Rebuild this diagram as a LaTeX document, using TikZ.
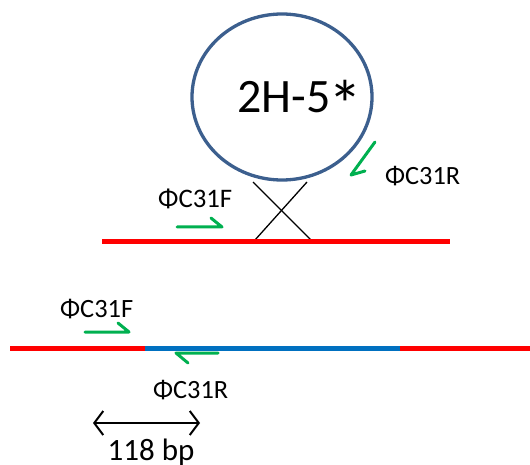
\documentclass[tikz,border=0pt]{standalone}
\usepackage{fontspec}
\setmainfont{Carlito}
\usetikzlibrary{arrows.meta}
\definecolor{dnared}{HTML}{FF0000}
\definecolor{dnablue}{HTML}{0070C0}
\definecolor{primer}{HTML}{00B050}
\definecolor{ringblue}{HTML}{3C5F8E}
\begin{document}
\begin{tikzpicture}[x=1pt,y=-1pt,
  dnaR/.style={draw=dnared,line width=5pt},
  dnaB/.style={draw=dnablue,line width=5pt},
  primerarrow/.style={draw=primer,line width=3pt,line cap=round,line join=round},
  lbl/.style={font=\fontsize{23}{23}\selectfont,anchor=base west,inner sep=0pt},
  cross/.style={draw=black,line width=1.3pt}]
\useasboundingbox (0,0) rectangle (530,465);
% plasmid
\draw[draw=ringblue,line width=3.3pt] (282,97) ellipse [x radius=90, y radius=83];
\node[font=\fontsize{48}{48}\selectfont,anchor=base west,inner sep=0pt] (name) at (237,113) {2H-5\kern-2pt\raisebox{-16pt}{\fontsize{68}{68}\selectfont *}};
% cross
\coordinate (x1) at (253,182); \coordinate (x2) at (311,240);
\coordinate (x3) at (307,182); \coordinate (x4) at (255,240);
\draw[cross] (x1) -- (x2);
\draw[cross] (x3) -- (x4);
% top line
\coordinate (t1) at (102,241); \coordinate (t2) at (450,241);
\draw[dnaR] (t1) -- (t2);
% top primers
\coordinate (fa) at (177,227); \coordinate (fb) at (222,227); \coordinate (fc) at (211,218);
\draw[primerarrow] (fa) -- (fb) -- (fc);
\node[lbl] (fl) at (158,208) {\resizebox{74pt}{!}{ΦC31F}};
\coordinate (ra) at (375,142); \coordinate (rb) at (351,175); \coordinate (rc) at (365,171);
\draw[primerarrow] (ra) -- (rb) -- (rc);
\node[lbl] (rl) at (385,185) {\resizebox{75pt}{!}{ΦC31R}};
% bottom line
\coordinate (b0) at (10,348); \coordinate (b1) at (145,348);
\coordinate (b2) at (400,348); \coordinate (b3) at (530,348);
\draw[dnaR] (b0) -- (b1);
\draw[dnaB] (b1) -- (b2);
\draw[dnaR] (b2) -- (b3);
% bottom primers
\coordinate (bfa) at (85,332); \coordinate (bfb) at (129,332); \coordinate (bfc) at (118,323);
\draw[primerarrow] (bfa) -- (bfb) -- (bfc);
\node[lbl] (bfl) at (60,317) {\resizebox{73pt}{!}{ΦC31F}};
\coordinate (bra) at (218,353); \coordinate (brb) at (176,353); \coordinate (brc) at (188,363);
\draw[primerarrow] (bra) -- (brb) -- (brc);
\node[lbl] (brl) at (153,398) {\resizebox{75pt}{!}{ΦC31R}};
% size arrow
\coordinate (s1) at (93,423); \coordinate (s2) at (200,423);
\draw[line width=2pt,{Straight Barb[length=9pt,width=24pt]}-{Straight Barb[length=9pt,width=24pt]}] (s1) -- (s2);
\node[font=\fontsize{31}{31}\selectfont,anchor=base,inner sep=0pt] (sz) at (151,460) {118 bp};
\end{tikzpicture}
\end{document}
